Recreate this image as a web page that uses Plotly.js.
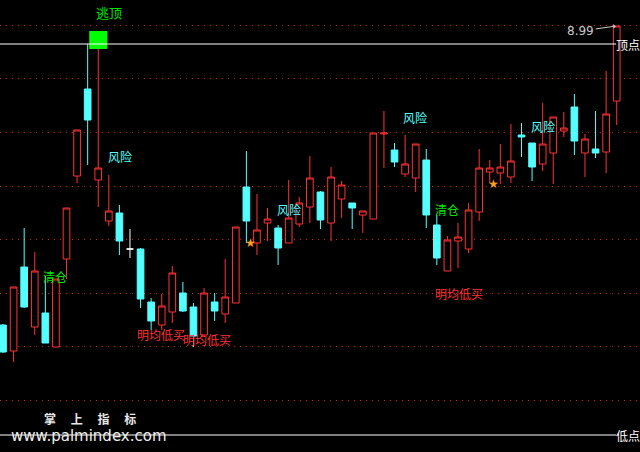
<!DOCTYPE html>
<html>
<head>
<meta charset="utf-8">
<script src="https://cdn.plot.ly/plotly-3.0.1.min.js"></script>
<style>html,body{margin:0;padding:0;background:#000;}#chart{width:640px;height:452px;}</style>
</head>
<body>
<div id="chart"></div>
<script>
// OHLC values (59 daily candles)
const opens  = [7.794,7.690,8.026,7.786,7.842,7.706,8.058,8.390,8.738,8.374,8.210,8.242,8.098,8.098,7.886,7.794,7.846,7.922,7.866,7.754,7.886,7.838,7.882,8.346,8.122,8.202,8.182,8.122,8.198,8.266,8.326,8.202,8.298,8.282,8.234,8.218,8.558,8.494,8.398,8.382,8.454,8.194,8.010,8.130,8.098,8.246,8.406,8.402,8.386,8.554,8.522,8.438,8.482,8.570,8.666,8.482,8.498,8.486,8.690];
const highs  = [7.798,7.946,8.182,8.086,7.990,7.978,8.262,8.574,8.918,8.902,8.394,8.274,8.178,8.102,7.902,7.918,8.030,7.966,7.882,7.942,7.922,8.058,8.186,8.490,8.318,8.262,8.194,8.374,8.306,8.470,8.330,8.426,8.370,8.282,8.250,8.562,8.650,8.522,8.554,8.518,8.498,8.234,8.150,8.202,8.282,8.498,8.454,8.518,8.598,8.602,8.522,8.682,8.626,8.646,8.718,8.558,8.650,8.810,8.990];
const lows   = [7.682,7.646,7.862,7.754,7.722,7.706,7.978,8.362,8.434,8.266,8.190,8.074,8.062,7.862,7.774,7.774,7.802,7.846,7.706,7.746,7.810,7.802,7.882,8.122,8.074,8.130,8.034,8.122,8.186,8.202,8.178,8.130,8.222,8.178,8.162,8.218,8.422,8.426,8.386,8.326,8.182,8.034,8.010,8.022,8.082,8.210,8.362,8.358,8.362,8.466,8.370,8.410,8.358,8.546,8.474,8.386,8.462,8.402,8.594];
const closes = [7.686,7.946,7.866,8.010,7.722,7.978,8.262,8.574,8.614,8.422,8.250,8.130,8.098,7.898,7.810,7.870,8.002,7.850,7.750,7.922,7.850,7.906,8.186,8.210,8.174,8.218,8.102,8.222,8.282,8.382,8.214,8.386,8.354,8.262,8.250,8.562,8.562,8.446,8.438,8.518,8.234,8.062,8.134,8.146,8.254,8.422,8.422,8.426,8.450,8.546,8.426,8.518,8.626,8.582,8.530,8.538,8.482,8.638,8.990];

// indicator levels and signals
const topLevel = 8.918;
const bottomLevel = 7.354;
const escapeTopIdx = [9];
const escapeTopPrice = [8.934];
const starIdx = [23, 46];
const starPrice = [8.122, 8.358];

const RED = '#ff3232', CYAN = '#54ffff', GREEN = '#00e600';
const CJK = '"Noto Sans CJK SC", "DejaVu Sans", sans-serif';

const xs = opens.map((_, i) => i);
const isDoji = opens.map((o, i) => o === closes[i]);
const pick = (arr, keep) => arr.map((v, i) => keep(i) ? v : null);

const main = {
  type: 'candlestick', x: xs,
  open: pick(opens, i => !isDoji[i]), high: pick(highs, i => !isDoji[i]),
  low: pick(lows, i => !isDoji[i]), close: pick(closes, i => !isDoji[i]),
  increasing: {line: {color: RED, width: 1}, fillcolor: '#000000'},
  decreasing: {line: {color: CYAN, width: 1}, fillcolor: CYAN},
  whiskerwidth: 0, hoverinfo: 'skip', showlegend: false
};
const doji = {
  type: 'candlestick', x: xs,
  open: pick(opens, i => isDoji[i]), high: pick(highs, i => isDoji[i]),
  low: pick(lows, i => isDoji[i]), close: pick(closes, i => isDoji[i]),
  increasing: {line: {color: '#ffffff', width: 1}, fillcolor: '#ffffff'},
  decreasing: {line: {color: '#ffffff', width: 1}, fillcolor: '#ffffff'},
  whiskerwidth: 0, hoverinfo: 'skip', showlegend: false
};
const square = {
  type: 'scatter', mode: 'markers', x: escapeTopIdx, y: escapeTopPrice,
  marker: {symbol: 'square', size: 18, color: '#00ff00', line: {width: 0}},
  hoverinfo: 'skip', showlegend: false
};

function px(x, y) { return {x: x / 640, y: 1 - y / 452}; }
function label(text, x, y, color, size, extra) {
  const p = px(x, y);
  return Object.assign({xref: 'paper', yref: 'paper', x: p.x, y: p.y, text: text,
    showarrow: false, xanchor: 'center', yanchor: 'middle',
    font: {family: CJK, size: size || 12, color: color}}, extra || {});
}

const annotations = [
  label('逃顶', 109, 12, GREEN, 13),
  label('风险', 120, 157, CYAN, 12),
  label('清仓', 55, 276, GREEN, 12),
  label('明均低买', 161, 334, RED, 12),
  label('明均低买', 207, 339, RED, 12),
  label('风险', 289, 210, CYAN, 12),
  label('风险', 415, 117, CYAN, 12),
  label('清仓', 447, 209, GREEN, 12),
  label('明均低买', 459, 293, RED, 12),
  label('风险', 543, 126, CYAN, 12),
  label('顶点', 628, 44, '#ffffff', 12),
  label('低点', 628, 435, '#ffffff', 12),
  label('<b>掌　 上　 指　 标</b>', 90, 418, '#e8e8e8', 12, {borderpad: 0}),
  label('www.palmindex.com', 89, 436, '#eeeeee', 15, {borderpad: 0, font: {family: 'DejaVu Sans, sans-serif', size: 15, color: '#eeeeee'}}),
];
starIdx.forEach((ix, k) => {
  annotations.push({x: ix, y: starPrice[k], xref: 'x', yref: 'y', text: '★', showarrow: false,
    xshift: 4, font: {size: 12, color: '#ffa020', family: 'DejaVu Sans'}});
});
const last = highs.length - 1;
annotations.push({x: last, y: highs[last], xref: 'x', yref: 'y', text: highs[last].toFixed(2),
  showarrow: true, ax: -36, ay: 5, arrowhead: 1, arrowsize: 0.8, arrowwidth: 1, arrowcolor: '#c8c8c8',
  standoff: 1, font: {family: 'DejaVu Sans, sans-serif', size: 12, color: '#c8c8c8'}});

const shapes = [
  {type: 'line', xref: 'paper', yref: 'y', x0: 0, x1: 616 / 640, y0: topLevel, y1: topLevel, line: {color: '#ffffff', width: 1}},
  {type: 'line', xref: 'paper', yref: 'y', x0: 0, x1: 616 / 640, y0: bottomLevel, y1: bottomLevel, line: {color: '#ffffff', width: 1}},
];

const layout = {
  width: 640, height: 452,
  margin: {l: 0, r: 0, t: 0, b: 0},
  paper_bgcolor: '#000000', plot_bgcolor: '#000000',
  showlegend: false,
  boxgap: 0.37, boxgroupgap: 0,
  xaxis: {range: [-0.284, 60.2], showgrid: false, zeroline: false, showticklabels: false,
          ticks: '', rangeslider: {visible: false}, fixedrange: true},
  yaxis: {range: [7.286, 9.094], showgrid: true, gridcolor: '#c81e1e', griddash: '1px,5px', gridwidth: 1,
          tick0: 8.9928, dtick: 0.2143, zeroline: false, showticklabels: false, ticks: '', fixedrange: true},
  shapes: shapes,
  annotations: annotations
};

Plotly.newPlot('chart', [main, doji, square], layout, {staticPlot: true, displayModeBar: false});
</script>
</body>
</html>
